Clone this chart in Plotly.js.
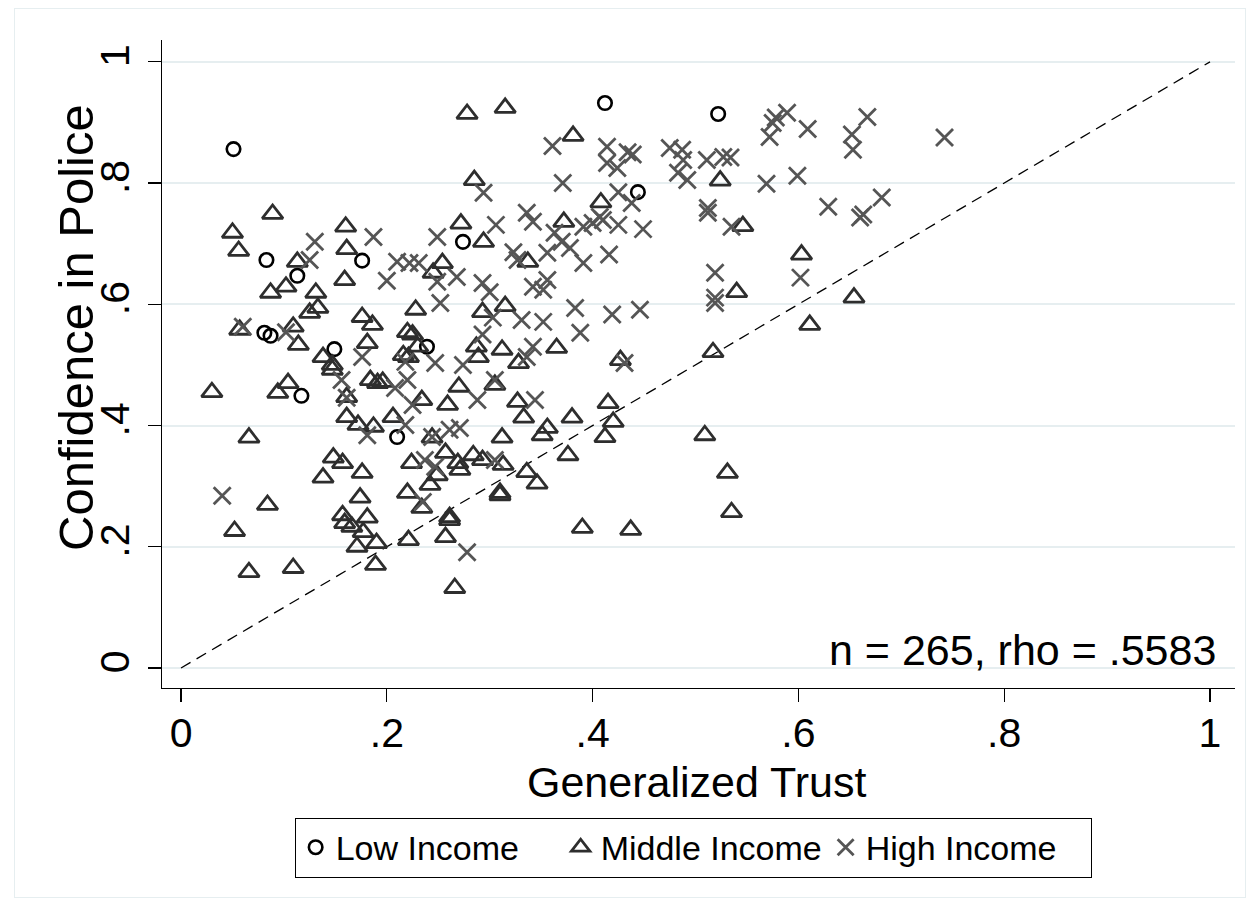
<!DOCTYPE html>
<html>
<head>
<meta charset="utf-8">
<script src="https://cdn.plot.ly/plotly-3.0.1.min.js"></script>
<style>
  html, body { margin: 0; padding: 0; background: #ffffff; }
  #frame { position: absolute; left: 14px; top: 8px; width: 1232px; height: 890px; border: 1px solid #e6eef0; box-sizing: border-box; }
  #chart { position: absolute; left: 0; top: 0; width: 1260px; height: 911px; }
</style>
</head>
<body>
<div id="frame"></div>
<div id="chart"></div>
<script>
// Low income (circles)
const lowX = [0.051, 0.412, 0.522, 0.444, 0.083, 0.176, 0.274, 0.113, 0.081, 0.087, 0.149, 0.117, 0.210, 0.239];
const lowY = [0.856, 0.932, 0.914, 0.785, 0.673, 0.672, 0.703, 0.647, 0.553, 0.548, 0.526, 0.449, 0.381, 0.530];

// Middle income (triangles)
const midX = [
  0.089, 0.050, 0.056, 0.113, 0.160, 0.161, 0.159, 0.087, 0.102, 0.131,
  0.278, 0.315, 0.381, 0.285, 0.272, 0.294, 0.254, 0.245, 0.337, 0.372, 0.408,
  0.524, 0.546, 0.603, 0.540, 0.654,
  0.057, 0.109, 0.114, 0.030, 0.094, 0.104, 0.066, 0.125, 0.133, 0.176, 0.186, 0.181,
  0.138, 0.147, 0.147, 0.184, 0.191, 0.161, 0.161, 0.172, 0.187, 0.148, 0.157, 0.176, 0.138,
  0.084, 0.052, 0.066, 0.109, 0.174, 0.157, 0.159, 0.166, 0.181, 0.177, 0.171, 0.190, 0.189,
  0.228, 0.293, 0.315, 0.220, 0.225, 0.230, 0.216, 0.221, 0.196, 0.234, 0.259, 0.270,
  0.287, 0.289, 0.312, 0.328, 0.365, 0.305, 0.327, 0.333, 0.380, 0.356, 0.351, 0.312,
  0.206, 0.244, 0.224, 0.257, 0.269, 0.271, 0.284, 0.293, 0.313, 0.336, 0.376, 0.249,
  0.220, 0.242, 0.234, 0.261, 0.261, 0.257, 0.221, 0.310, 0.310, 0.346, 0.266, 0.390,
  0.427, 0.517, 0.611, 0.415, 0.420, 0.412, 0.509, 0.531, 0.437, 0.535
];
const midY = [
  0.749, 0.718, 0.688, 0.670, 0.728, 0.691, 0.640, 0.619, 0.629, 0.619,
  0.914, 0.924, 0.878, 0.805, 0.733, 0.703, 0.668, 0.652, 0.670, 0.736, 0.768,
  0.804, 0.729, 0.682, 0.620, 0.611,
  0.558, 0.563, 0.533, 0.455, 0.454, 0.470, 0.380, 0.586, 0.594, 0.579, 0.566, 0.536,
  0.513, 0.500, 0.492, 0.475, 0.470, 0.447, 0.414, 0.401, 0.398, 0.347, 0.338, 0.322, 0.314,
  0.269, 0.226, 0.158, 0.165, 0.281, 0.252, 0.239, 0.233, 0.248, 0.224, 0.200, 0.206, 0.170,
  0.591, 0.587, 0.597, 0.554, 0.550, 0.530, 0.516, 0.513, 0.472, 0.442, 0.434, 0.464,
  0.530, 0.513, 0.525, 0.503, 0.528, 0.467, 0.439, 0.413, 0.413, 0.396, 0.384, 0.380,
  0.414, 0.380, 0.338, 0.355, 0.338, 0.327, 0.351, 0.343, 0.335, 0.323, 0.351, 0.318,
  0.289, 0.302, 0.264, 0.249, 0.244, 0.216, 0.211, 0.289, 0.285, 0.304, 0.132, 0.231,
  0.508, 0.521, 0.566, 0.437, 0.406, 0.381, 0.384, 0.322, 0.228, 0.257
];

// High income (crosses)
const highX = [
  0.130, 0.125, 0.187,
  0.361, 0.371, 0.294, 0.306, 0.336, 0.342, 0.249, 0.391, 0.210, 0.222, 0.231, 0.200,
  0.268, 0.249, 0.293, 0.300, 0.323, 0.327, 0.356, 0.363, 0.370, 0.378, 0.391, 0.342,
  0.356, 0.352, 0.400, 0.407,
  0.414, 0.414, 0.434, 0.439, 0.424, 0.475, 0.487, 0.488, 0.483, 0.492, 0.511, 0.527,
  0.534, 0.569, 0.599, 0.425, 0.438, 0.410, 0.425, 0.449, 0.416, 0.512, 0.512, 0.535,
  0.519, 0.602, 0.519, 0.589, 0.575, 0.572, 0.609, 0.578,
  0.667, 0.652, 0.653, 0.742, 0.629, 0.681, 0.663, 0.660,
  0.060, 0.102, 0.176, 0.156, 0.161, 0.181,
  0.252, 0.303, 0.331, 0.352, 0.383, 0.388, 0.293, 0.342, 0.336, 0.247, 0.274, 0.218,
  0.220, 0.208, 0.305, 0.288, 0.344, 0.225, 0.218, 0.244, 0.261, 0.271, 0.237, 0.247, 0.305,
  0.419, 0.446, 0.519, 0.431,
  0.040, 0.235, 0.278
];
const highY = [
  0.703, 0.673, 0.711,
  0.861, 0.800, 0.784, 0.731, 0.751, 0.736, 0.711, 0.728, 0.670, 0.668, 0.668, 0.639,
  0.645, 0.637, 0.635, 0.620, 0.686, 0.673, 0.685, 0.718, 0.703, 0.693, 0.668, 0.629,
  0.640, 0.624, 0.734, 0.744,
  0.860, 0.833, 0.851, 0.847, 0.825, 0.858, 0.855, 0.838, 0.817, 0.805, 0.838, 0.843,
  0.842, 0.799, 0.812, 0.785, 0.767, 0.739, 0.731, 0.724, 0.682, 0.759, 0.751, 0.728,
  0.652, 0.644, 0.611, 0.916, 0.899, 0.876, 0.889, 0.908,
  0.909, 0.880, 0.855, 0.875, 0.761, 0.776, 0.748, 0.743,
  0.563, 0.554, 0.513, 0.475, 0.446, 0.384,
  0.602, 0.578, 0.574, 0.571, 0.594, 0.553, 0.550, 0.530, 0.513, 0.503, 0.500, 0.505,
  0.475, 0.462, 0.475, 0.442, 0.442, 0.434, 0.401, 0.381, 0.393, 0.396, 0.343, 0.332, 0.343,
  0.583, 0.591, 0.602, 0.503,
  0.284, 0.274, 0.191
];

// 45-degree reference line
const diagX = [0, 1];
const diagY = [0, 1];

const tickVals = [0, 0.2, 0.4, 0.6, 0.8, 1];
const tickText = ['0', '.2', '.4', '.6', '.8', '1'];

const xTitle = 'Generalized Trust';
const yTitle = 'Confidence in Police';
const annotationText = 'n = 265, rho = .5583';

const FONT = 'Liberation Sans, Arial, sans-serif';

const traces = [
  {
    x: diagX, y: diagY, type: 'scatter', mode: 'lines',
    line: { color: '#000000', width: 1.3, dash: '11px,7px' },
    showlegend: false, hoverinfo: 'skip'
  },
  {
    x: lowX, y: lowY, type: 'scatter', mode: 'markers', name: 'Low Income',
    marker: { symbol: 'circle-open', size: 13.5, color: '#000000', line: { width: 2.6, color: '#000000' } }
  },
  {
    x: midX, y: midY, type: 'scatter', mode: 'markers', name: 'Middle Income',
    marker: { symbol: 'triangle-up-open', size: 18, color: '#2e2e2e', line: { width: 2.8, color: '#2e2e2e' } }
  },
  {
    x: highX, y: highY, type: 'scatter', mode: 'markers', name: 'High Income',
    marker: { symbol: 'x-thin-open', size: 17, color: '#555555', line: { width: 2.8, color: '#555555' } }
  }
];

const layout = {
  width: 1260, height: 911,
  paper_bgcolor: 'rgba(0,0,0,0)',
  plot_bgcolor: '#ffffff',
  margin: { l: 162, r: 25, t: 40, b: 223 },
  font: { family: FONT, color: '#000000' },
  showlegend: true,
  xaxis: {
    range: [-0.0185, 1.0243],
    tickmode: 'array', tickvals: tickVals, ticktext: tickText,
    ticks: 'outside', ticklen: 13, tickwidth: 1.3, tickcolor: '#000000',
    showline: true, linecolor: '#000000', linewidth: 1.3,
    showgrid: false, zeroline: false,
    tickfont: { family: FONT, size: 41, color: '#000000' },
    ticklabelstandoff: -5
  },
  yaxis: {
    range: [-0.033, 1.036],
    tickmode: 'array', tickvals: tickVals, ticktext: tickText,
    ticks: 'outside', ticklen: 13, tickwidth: 1.3, tickcolor: '#000000',
    tickangle: -90,
    showline: true, linecolor: '#000000', linewidth: 1.3,
    showgrid: true, gridcolor: '#e6eef0', gridwidth: 2,
    zeroline: false,
    tickfont: { family: FONT, size: 41, color: '#000000' },
    ticklabelstandoff: 2
  },
  legend: {
    orientation: 'h', x: 0.495, xanchor: 'center', y: -0.2, yanchor: 'top',
    bordercolor: '#000000', borderwidth: 1, bgcolor: '#ffffff',
    font: { family: FONT, size: 34, color: '#000000' },
    itemwidth: 30, itemsizing: 'trace',
    entrywidth: 220, entrywidthmode: 'pixels'
  },
  annotations: [
    {
      x: 1.008, y: 0.03, xref: 'x', yref: 'y', xanchor: 'right', yanchor: 'middle',
      text: annotationText, showarrow: false,
      font: { family: FONT, size: 43, color: '#000000' }
    },
    {
      x: 0.4986, y: -0.145, xref: 'paper', yref: 'paper', xanchor: 'center', yanchor: 'middle',
      text: xTitle, showarrow: false,
      font: { family: FONT, size: 43, color: '#000000' }
    },
    {
      x: -0.0802, y: 0.557, xref: 'paper', yref: 'paper', xanchor: 'center', yanchor: 'middle',
      text: yTitle, showarrow: false, textangle: -90,
      font: { family: FONT, size: 49, color: '#000000' }
    }
  ]
};

Plotly.newPlot('chart', traces, layout, { displayModeBar: false, staticPlot: true });
</script>
</body>
</html>
